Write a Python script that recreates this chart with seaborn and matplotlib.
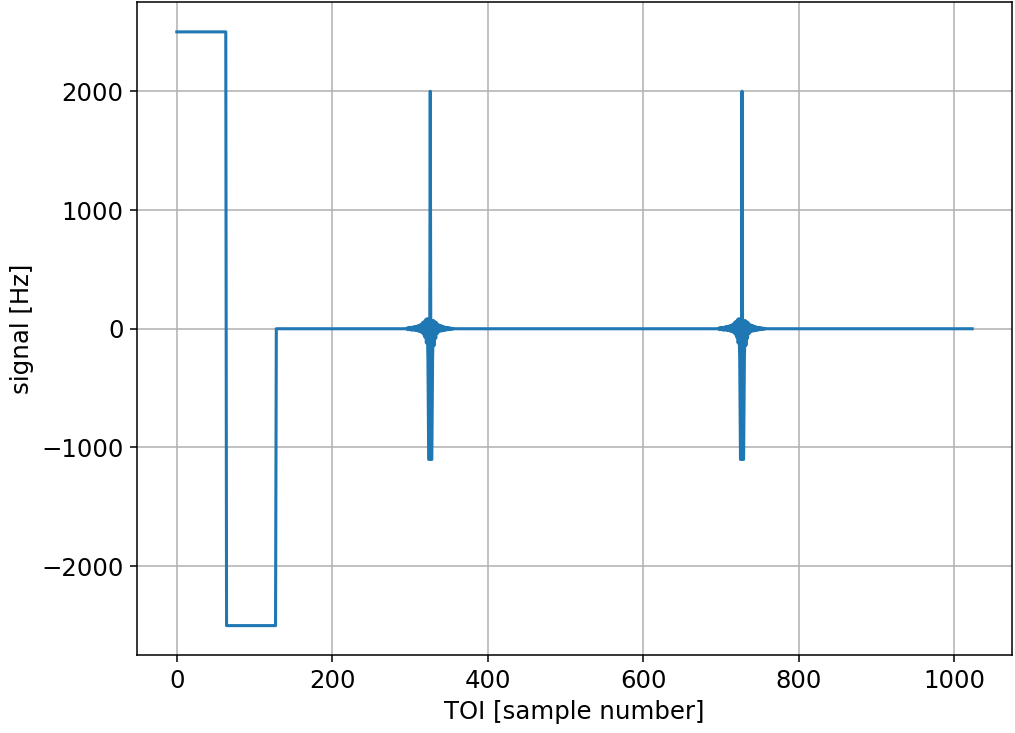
import numpy as np
import pandas as pd
import matplotlib
matplotlib.use('Agg')
import matplotlib.pyplot as plt
import seaborn as sns

# signal levels: (level, number of samples)
segment_levels = [2500, -2500, 0]
segment_lengths = [64, 64, 896]

# glitch positions (sample number at the upward spike)
glitch_centers = [326, 727]

# glitch shape: 30 samples before, the peak, 30 after
glitch_before = [
    5, -8, 10, -6, 12, -10, 8, -12, 15, -10, 18, -14, 20, -16, 25,
    -20, 30, -25, 35, -30, 50, -45, 60, -70, 75,
    -120, 85, -250, -1100, -1100,
]
glitch_peak = [2000]
glitch_after = [
    -1100, -1100, -250, 70, -140, 60, -80, 50, -40, 35,
    -25, 30, -20, 25, -18, 20, -15, 15, -12, 12,
    -10, 10, -8, 8, -6, 6, -5, 4, -3, 2,
]
glitch_shape = glitch_before + glitch_peak + glitch_after

# build the timeline
signal = np.concatenate([np.full(n, v, dtype=float)
                         for v, n in zip(segment_levels, segment_lengths)])
for c in glitch_centers:
    start = c - len(glitch_before)
    signal[start:start + len(glitch_shape)] += glitch_shape

df = pd.DataFrame({'sample': np.arange(len(signal)), 'signal': signal})

plt.rcParams['font.size'] = 12.7
dpi = 138
fig = plt.figure(figsize=(1015 / dpi, 733 / dpi), dpi=dpi)
ax = fig.add_axes([0.135, 0.106, 0.862, 0.891])

sns.lineplot(data=df, x='sample', y='signal', ax=ax, color='#1f77b4',
             linewidth=1.6, estimator=None)

ax.set_xlabel('TOI [sample number]')
ax.set_ylabel('signal [Hz]')
ax.grid(True, color='#b0b0b0', linewidth=0.8)
ax.set_xticks([0, 200, 400, 600, 800, 1000])
ax.set_yticks([-2000, -1000, 0, 1000, 2000])

fig.savefig('out.png', dpi=dpi)
